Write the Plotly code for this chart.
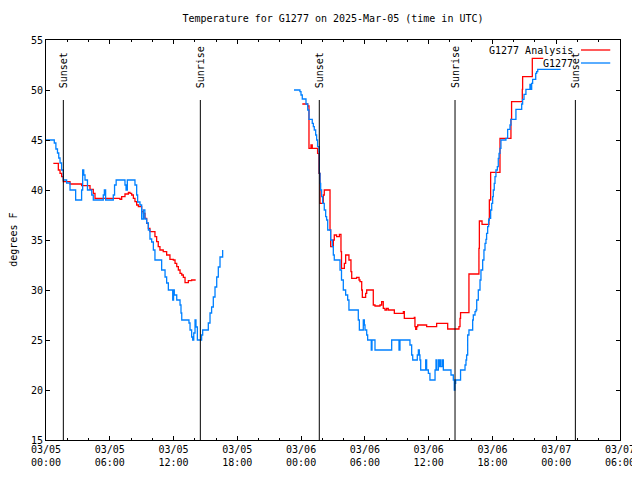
import pandas as pd
import plotly.graph_objects as go

# ---- data (hours after 2025-03-05 00:00 UTC, degrees F) ----
base_time = "2025-03-05 00:00"

obs_hours_1 = [0.0, 0.78, 0.93, 1.08, 1.2, 1.32, 1.47, 1.63, 1.94, 2.26, 2.79, 3.35, 3.45, 3.55, 3.67,
               3.9, 4.3, 4.45, 5.39, 5.49, 5.61, 6.33, 6.45, 6.6, 7.43, 7.53, 7.65, 8.37, 8.53, 8.62,
               8.84, 9.0, 9.16, 9.3, 9.47, 9.63, 9.78, 9.94, 10.1, 10.25, 10.88, 11.2, 11.35, 11.51,
               11.92, 12.0, 12.07, 12.14, 12.3, 12.61, 12.7, 12.77, 13.45, 13.55, 13.7, 13.8, 13.9,
               14.02, 14.11, 14.24, 14.64, 14.74, 15.27, 15.43, 15.58, 15.74, 15.9, 16.06, 16.21,
               16.37, 16.62]
obs_temps_1 = [45.0, 44.7, 44.1, 43.7, 43.2, 42.7, 42.0, 41.0, 40.7, 40.0, 39.0, 40.0, 42.0, 41.5, 41.0,
               40.0, 39.5, 39.0, 39.5, 40.0, 39.0, 39.5, 40.5, 41.0, 40.5, 40.0, 41.0, 40.5, 39.5, 38.8,
               38.5, 37.1, 38.0, 37.1, 36.7, 36.0, 35.1, 34.8, 34.0, 33.0, 32.0, 31.3, 30.7, 30.0,
               29.0, 30.0, 29.5, 29.5, 29.0, 28.5, 27.7, 27.0, 26.7, 26.0, 25.3, 25.0, 25.7,
               27.0, 26.3, 25.0, 25.5, 26.0, 26.7, 27.7, 28.3, 29.3, 30.3, 31.3, 32.3,
               33.3, 34.0]

obs_hours_2 = [23.33, 23.89, 23.99, 24.11, 24.46, 24.62, 24.74, 25.05, 25.15, 25.24, 25.37, 25.46, 25.55,
               25.68, 25.71, 25.78, 25.84, 25.93, 26.03, 26.18, 26.31, 26.4, 26.5, 26.78, 26.94, 27.03,
               27.12, 27.66, 27.8, 27.97, 28.19, 28.38, 28.5, 29.38, 29.48, 29.85, 29.95, 30.01, 30.17,
               30.26, 30.6, 30.67, 30.95, 32.52, 33.21, 33.3, 34.24, 34.4, 34.5, 34.93, 35.03, 35.12,
               35.18, 35.25, 35.72, 35.81, 35.97, 36.12, 36.6, 36.69, 36.75, 36.91, 37.0, 37.06, 37.16,
               37.31, 37.38, 38.1, 38.32, 38.41, 38.47, 38.54, 39.0, 39.42, 39.51, 39.57, 39.67, 39.79,
               40.14, 40.2, 40.36, 40.45, 40.52, 40.67, 40.83, 40.92, 41.08, 41.2, 41.3, 41.39, 41.45,
               41.55, 41.64, 41.71, 41.83, 41.93, 42.02, 42.08, 42.17, 42.24, 42.33, 42.46, 42.55, 42.62,
               42.71, 42.8, 43.27, 43.43, 43.65, 43.74, 44.21, 44.75, 44.84, 44.97, 45.15, 45.53, 45.59,
               45.69, 45.78, 46.07, 46.16, 46.26, 48.42]
obs_temps_2 = [50.0, 49.83, 49.5, 49.1, 48.6, 48.0, 47.07, 46.67, 46.33, 46.0, 45.5, 45.0, 44.33,
               43.83, 41.67, 40.67, 40.0, 39.33, 38.67, 38.0, 37.33, 37.0, 36.0, 35.0, 34.33, 33.5,
               33.0, 32.0, 31.0, 30.0, 29.5, 29.0, 28.0, 27.0, 26.0, 27.0, 26.5, 26.0, 25.5,
               25.0, 24.0, 25.0, 24.0, 25.0, 24.0, 25.0, 24.5, 23.5, 23.0, 23.5, 24.0, 23.5,
               23.0, 22.0, 23.0, 22.0, 21.67, 21.0, 22.0, 23.0, 22.0, 23.0, 22.33, 23.0, 22.33,
               23.0, 22.0, 21.5, 21.0, 20.0, 20.67, 21.0, 22.0, 22.5, 23.0, 23.5, 25.5, 26.0,
               27.0, 27.5, 27.83, 28.0, 29.0, 30.0, 31.0, 32.0, 33.0, 34.0, 34.67, 35.07, 35.67,
               36.33, 37.0, 37.17, 38.0, 38.67, 39.33, 40.0, 40.67, 41.33, 42.0, 42.33, 43.17, 43.67,
               44.17, 45.0, 45.17, 46.07, 46.5, 47.07, 48.07, 48.6, 49.07, 49.57, 50.07, 50.57, 50.07,
               50.67, 51.07, 51.67, 51.83, 52.07, 52.07]

ana_hours_1 = [0.69, 1.16, 1.32, 1.47, 1.63, 2.26, 3.35, 4.14, 4.45, 4.61, 6.96, 7.12, 7.43, 7.75, 7.9,
               8.06, 8.22, 8.37, 8.53, 8.69, 9.0, 9.16, 9.31, 9.47, 9.63, 9.78, 10.25, 10.41, 10.56,
               10.72, 11.03, 11.35, 11.66, 11.98, 12.14, 12.3, 12.45, 12.61, 12.77, 12.92, 13.08,
               13.39, 13.7, 14.02]
ana_temps_1 = [42.67, 42.0, 41.67, 41.33, 40.83, 40.6, 40.43, 40.07, 39.67, 39.17, 39.07, 39.33, 39.6, 39.77, 39.67,
               39.5, 39.17, 38.83, 38.5, 38.33, 37.83, 37.67, 37.17, 36.67, 36.17, 35.83, 35.33, 34.83, 34.33,
               34.0, 33.83, 33.5, 33.07, 33.0, 32.67, 32.33, 32.0, 31.67, 31.5, 31.27, 30.73,
               30.93, 31.0, 31.07]

ana_hours_2 = [24.11, 24.62, 24.74, 24.93, 25.05, 25.55, 25.68, 25.78, 26.09, 26.18, 26.72, 26.78, 27.03,
               27.12, 27.34, 27.6, 27.75, 27.8, 28.07, 28.19, 28.5, 28.69, 28.76, 29.22, 29.45, 29.54,
               29.7, 29.76, 30.07, 30.17, 30.79, 30.95, 31.42, 31.58, 31.73, 31.89, 32.05, 32.2, 32.77,
               33.62, 33.71, 34.65, 34.71, 34.78, 34.87, 34.97, 35.81, 36.75, 37.79, 38.85, 38.95, 39.0,
               39.79, 40.73, 40.77, 41.02, 41.67, 41.71, 41.83, 42.71, 43.74, 43.8, 44.81, 44.84, 45.75,
               46.78]
ana_temps_2 = [48.6, 48.4, 44.17, 44.5, 44.17, 43.67, 41.67, 38.67, 39.5, 40.0, 36.0, 34.33, 35.0,
               35.5, 35.33, 35.57, 33.83, 32.17, 32.67, 33.5, 33.0, 31.83, 31.17, 31.27, 31.0, 30.83,
               30.0, 29.27, 29.67, 30.0, 28.5, 28.4, 28.5, 28.83, 28.17, 28.0, 28.17, 28.0, 27.67,
               27.83, 27.17, 27.27, 26.33, 26.07, 26.33, 26.5, 26.33, 26.67, 26.1, 26.33, 27.17, 27.73,
               31.6, 34.17, 36.9, 36.57, 37.1, 39.0, 41.77, 45.17, 47.07, 48.83, 50.07, 51.33, 53.17,
               53.17]

sun_events = ["Sunset", "Sunrise", "Sunset", "Sunrise", "Sunset"]
sun_hours = [1.63, 14.52, 25.71, 38.48, 49.8]

y_ticks = [15, 20, 25, 30, 35, 40, 45, 50, 55]

# ---- build ----
t0 = pd.Timestamp(base_time)


def to_time(hours):
    return [t0 + pd.Timedelta(hours=h) for h in hours]


def join(h1, v1, h2, v2):
    return to_time(h1) + [None] + to_time(h2), v1 + [None] + v2


ox, oy = join(obs_hours_1, obs_temps_1, obs_hours_2, obs_temps_2)
ax_, ay = join(ana_hours_1, ana_temps_1, ana_hours_2, ana_temps_2)

FONT = "DejaVu Sans Mono"
RED = "#ff0000"
BLUE = "#0080ff"

fig = go.Figure()
fig.add_trace(go.Scatter(x=ax_, y=ay, mode="lines", line=dict(color=RED, width=1.3, shape="hv"),
                         name="G1277 Analysis", connectgaps=False, showlegend=False))
fig.add_trace(go.Scatter(x=ox, y=oy, mode="lines", line=dict(color=BLUE, width=1.3, shape="hv"),
                         name="G1277", connectgaps=False, showlegend=False))

for name, h in zip(sun_events, sun_hours):
    t = t0 + pd.Timedelta(hours=h)
    fig.add_shape(type="line", xref="x", yref="paper", x0=t, x1=t, y0=0, y1=0.85,
                  line=dict(color="black", width=1))
    fig.add_annotation(x=t, xref="x", y=0.875, yref="paper", text=name, textangle=-90,
                       showarrow=False, xanchor="center", yanchor="bottom",
                       font=dict(family=FONT, size=10, color="black"))

# legend (gnuplot style: text then sample)
for label, color, yy in [("G1277 Analysis", RED, 0.975), ("G1277", BLUE, 0.9425)]:
    fig.add_annotation(x=0.921, xref="paper", y=yy, yref="paper", text=label, showarrow=False,
                       xanchor="right", yanchor="middle", font=dict(family=FONT, size=10, color="black"))
    fig.add_shape(type="line", xref="paper", yref="paper", x0=0.932, x1=0.983, y0=yy, y1=yy,
                  line=dict(color=color, width=1.3))

fig.add_annotation(x=-0.058, xref="paper", y=0.5, yref="paper", text="degrees F", textangle=-90,
                   showarrow=False, xanchor="center", yanchor="middle", borderpad=0,
                   font=dict(family=FONT, size=10, color="black"))

# page body adds an 8px offset; size/margins compensate so the plot box lands at 46..620 x 40..440
fig.update_layout(
    width=632, height=472,
    margin=dict(l=38, r=20, t=32, b=40, autoexpand=False),
    paper_bgcolor="white", plot_bgcolor="white",
    font=dict(family=FONT, size=10, color="black"),
    title=dict(text="Temperature for G1277 on 2025-Mar-05 (time in UTC)", x=0.5, xref="paper",
               xanchor="center", y=0.977, yanchor="middle", font=dict(family=FONT, size=10)),
    showlegend=False,
)
fig.update_xaxes(
    type="date", automargin=False, ticklabeloverflow="allow",
    range=[t0, t0 + pd.Timedelta(hours=54)],
    dtick=6 * 3600 * 1000, tick0=t0,
    tickformat="%m/%d<br>%H:%M",
    ticks="inside", ticklen=4, tickcolor="black",
    minor=dict(dtick=2 * 3600 * 1000, ticks="inside", ticklen=2, tickcolor="black", showgrid=False),
    showline=True, linecolor="black", linewidth=1, mirror="allticks",
    showgrid=False, zeroline=False,
    tickfont=dict(family=FONT, size=10),
)
fig.update_yaxes(
    automargin=False,
    range=[15, 55], tickvals=y_ticks,
    ticks="inside", ticklen=4, tickcolor="black",
    showline=True, linecolor="black", linewidth=1, mirror="allticks",
    showgrid=False, zeroline=False,
    tickfont=dict(family=FONT, size=10),
)

fig.write_html("out.html")
